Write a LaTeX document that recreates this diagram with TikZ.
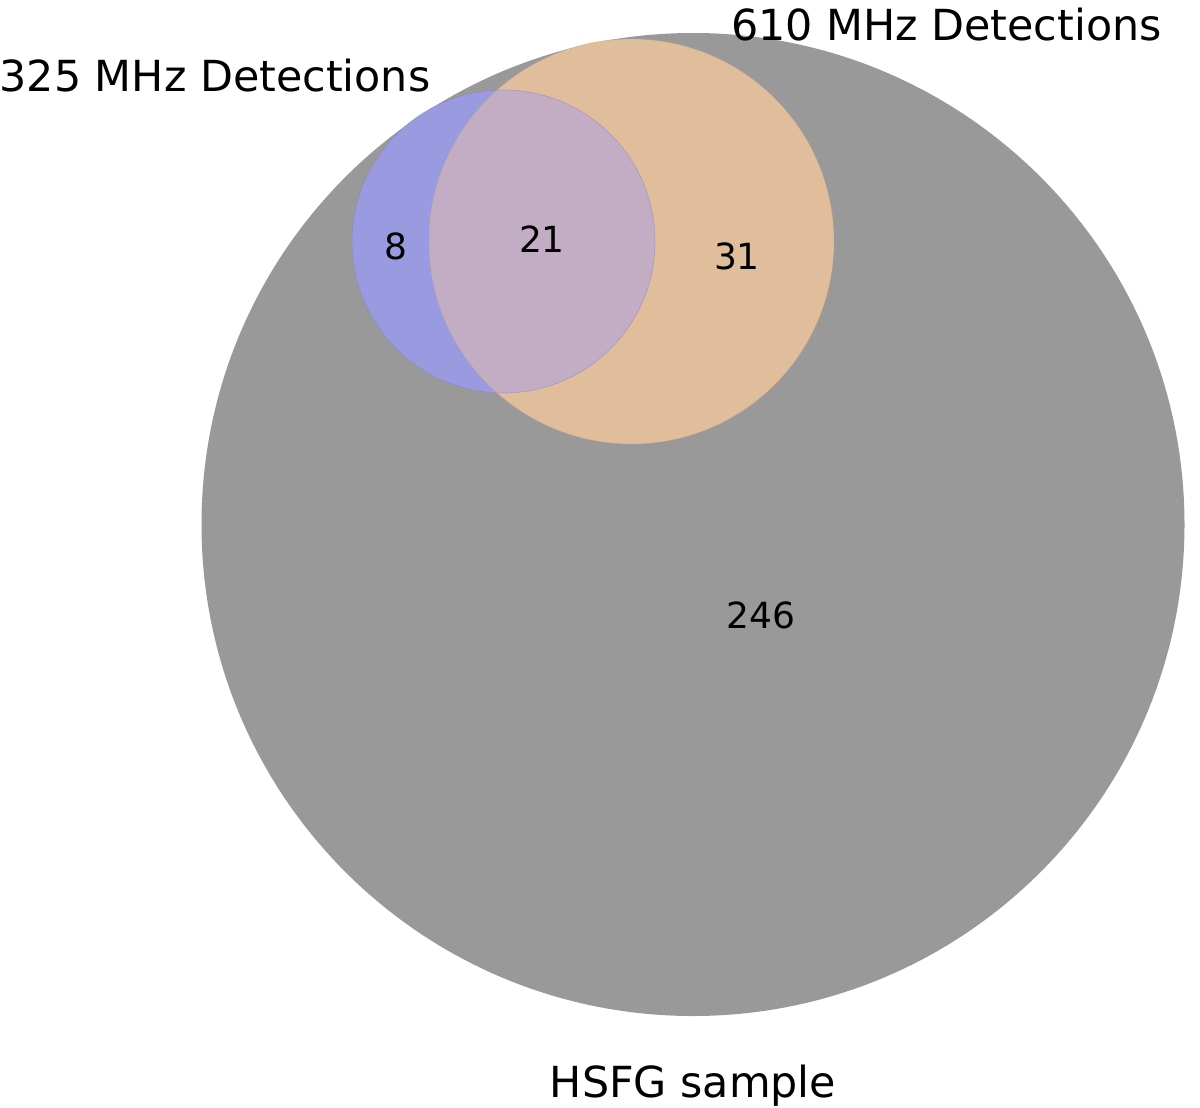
\documentclass[tikz,border=0pt]{standalone}
\usepackage{fontspec}
\setmainfont{DejaVu Sans}
\definecolor{greyset}{RGB}{153,153,153}
\definecolor{blueset}{RGB}{153,154,224}
\definecolor{orangeset}{RGB}{224,189,155}
\definecolor{bothset}{RGB}{194,173,196}
\begin{document}
\begin{tikzpicture}[x=0.5pt,y=-0.5pt,
  title/.style={font=\fontsize{21.4}{25}\selectfont, inner sep=0pt, anchor=base},
  count/.style={font=\fontsize{18}{22}\selectfont, inner sep=0pt}]
\useasboundingbox (0,0) rectangle (1200,1108);
\fill[white] (0,0) rectangle (1200,1108);
% HSFG sample
\fill[greyset] (693,524.5) circle[radius=491.5];
% 325 MHz
\fill[blueset] (503.5,241.5) circle[radius=151.5];
% 610 MHz
\fill[orangeset] (631.5,241.5) circle[radius=202.5];
% overlap
\begin{scope}
  \clip (503.5,241.5) circle[radius=151.5];
  \fill[bothset] (631.5,241.5) circle[radius=202.5];
\end{scope}
\draw[blueset!85!black, line width=0.3pt, opacity=0.5] (503.5,241.5) circle[radius=151.5];
\draw[orangeset!85!black, line width=0.3pt, opacity=0.4] (631.5,241.5) circle[radius=202.5];
% labels
\node[title] (l325) at (215,91.5) {325 MHz Detections};
\node[title] (l610) at (946.5,40) {610 MHz Detections};
\node[title] (lhsfg) at (693,1097) {HSFG sample};
\node[count] (n8) at (395.5,246) {8};
\node[count] (n21) at (542,239) {21};
\node[count] (n31) at (737,256) {31};
\node[count] (n246) at (761,615) {246};
\end{tikzpicture}
\end{document}
